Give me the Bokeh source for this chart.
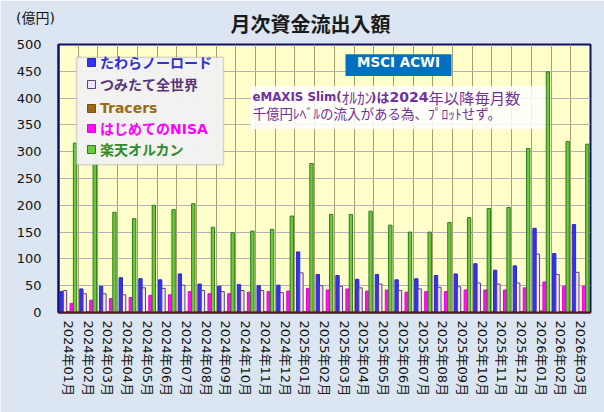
from bokeh.plotting import figure
from bokeh.models import (Range1d, FixedTicker, Legend, LegendItem, Label, BoxAnnotation,
                          ColumnDataSource, Div, GridBox)
from bokeh.transform import dodge
from bokeh.embed import file_html
from bokeh.resources import INLINE

months = ["2024年01月", "2024年02月", "2024年03月", "2024年04月", "2024年05月", "2024年06月",
          "2024年07月", "2024年08月", "2024年09月", "2024年10月", "2024年11月", "2024年12月",
          "2025年01月", "2025年02月", "2025年03月", "2025年04月", "2025年05月", "2025年06月",
          "2025年07月", "2025年08月", "2025年09月", "2025年10月", "2025年11月", "2025年12月",
          "2026年01月", "2026年02月", "2026年03月"]
tawara = [39, 44, 49, 65, 63, 61, 72, 53, 49, 52, 50, 51,
          113, 71, 69, 62, 71, 61, 63, 69, 72, 91, 79, 87,
          157, 110, 164]
tsumitate = [41, 35, 35, 33, 46, 45, 51, 41, 39, 41, 41, 37,
             74, 50, 49, 46, 53, 41, 44, 47, 48, 55, 53, 55,
             109, 71, 75]
tracers = [2, 1, 1, 1, 1, 1, 1, 1, 1, 1, 1, 1,
           1, 1, 1, 1, 1, 1, 1, 1, 1, 1, 1, 2,
           3, 1, 1]
hajimete = [17, 23, 26, 28, 32, 33, 39, 35, 35, 38, 39, 40,
            45, 42, 44, 40, 42, 38, 39, 39, 42, 42, 42, 46,
            57, 49, 49]
rakuten = [316, 300, 187, 175, 200, 192, 203, 159, 149, 152, 155, 180,
           278, 183, 183, 189, 163, 150, 150, 168, 177, 194, 196, 306,
           449, 319, 314]
series_names = ["たわらノーロード", "つみたて全世界", "Tracers", "はじめてのNISA", "楽天オルカン"]
y_ticks = [0, 50, 100, 150, 200, 250, 300, 350, 400, 450, 500]

n = len(months)
xs = list(range(1, n + 1))
src = ColumnDataSource(dict(x=xs, tawara=tawara, tsumitate=tsumitate, tracers=tracers,
                            hajimete=hajimete, rakuten=rakuten))

W, H = 604, 412
FL, FR, FT, FB = 58, 14, 40, 100  # borders around frame (page px)
fw, fh = W - FL - FR, H - FT - FB

p = figure(width=W, height=H, output_backend="svg", toolbar_location=None,
           x_range=Range1d(0.5, n + 0.5), y_range=Range1d(0, 500),
           min_border_left=FL, min_border_right=FR, min_border_top=FT, min_border_bottom=FB,
           background_fill_color="#FFFFCC", border_fill_color="#DCE6F2")

CJK = "'DejaVu Sans', 'Noto Sans CJK JP'"
LAT = "'DejaVu Sans'"
JP = "'Noto Sans CJK JP'"

p.title.text = "月次資金流出入額"
p.title.align = "left"
p.title.offset = 172
p.title.text_font = JP
p.title.text_font_size = "20px"
p.title.text_font_style = "bold"
p.title.text_color = "#1a1a1a"
p.title.standoff = 13

p.outline_line_color = "#10106A"
p.outline_line_width = 2

# axes
p.xaxis.ticker = FixedTicker(ticks=xs)
p.xaxis.major_label_overrides = {x: m for x, m in zip(xs, months)}
p.xaxis.major_label_orientation = "vertical"
p.xaxis.major_label_text_font = CJK
p.xaxis.major_label_text_font_size = "13px"
p.xaxis.major_label_text_color = "#111111"
p.xaxis.major_tick_line_color = None
p.xaxis.minor_tick_line_color = None
p.xaxis.major_tick_out = 0
p.xaxis.major_label_standoff = 8
p.xaxis.axis_line_color = "#4A1E10"
p.xaxis.axis_line_width = 2

p.yaxis.ticker = FixedTicker(ticks=y_ticks)
p.yaxis.major_label_text_font = LAT
p.yaxis.major_label_text_font_size = "13px"
p.yaxis.major_label_text_color = "#111111"
p.yaxis.major_tick_line_color = None
p.yaxis.minor_tick_line_color = None
p.yaxis.major_tick_out = 0
p.yaxis.major_label_standoff = 17
p.yaxis.axis_line_color = "#10106A"
p.yaxis.axis_line_width = 2

p.xgrid.ticker = FixedTicker(ticks=[i + 0.5 for i in range(n + 1)])
p.xgrid.grid_line_color = "#B09A72"
p.ygrid.grid_line_color = "#B8AEB8"

# bars
bw = 0.17
styles = [
    ("tawara", -2 * bw, "#3333F0", "#2828C8"),
    ("tsumitate", -bw, "#F4E4FA", "#5E3E7E"),
    ("tracers", 0.0, "#9C6A14", "#7A5010"),
    ("hajimete", bw, "#FF10F0", "#E000E0"),
    ("rakuten", 2 * bw, "#6CCB3A", "#2F7A1F"),
]
renderers = []
for col, off, fc, lc in styles:
    r = p.vbar(x=dodge("x", off), top=col, width=bw, bottom=0, source=src,
               fill_color=fc, line_color=lc, line_width=1)
    renderers.append(r)

# helpers: page px -> data / frame-screen coords
def dx(px):
    return 0.5 + (px - FL) * n / fw
def dy(py):
    return (FT + fh - py) * 500 / fh
def sx(px):
    return px - FL
def sy(py):
    return FT + fh - py

# legend box
p.add_layout(BoxAnnotation(left=dx(76), right=dx(223), top=dy(53), bottom=dy(162),
                           fill_color="#F2F2F2", fill_alpha=0.97,
                           line_color="#8C8C8C", line_width=1.5, level="annotation"))
text_colors = ["#3030D0", "#55367A", "#9C6A14", "#FF00FF", "#2E8B2E"]
row_y = [63, 85, 107, 128.5, 150]
for r, name, tc, ry in zip(renderers, series_names, text_colors, row_y):
    lg = Legend(items=[LegendItem(label=name, renderers=[r])],
                location=(sx(86), sy(ry) - 9), padding=0, margin=0, spacing=0,
                glyph_width=10, glyph_height=10, label_height=10, label_standoff=4,
                label_text_font=CJK, label_text_font_size="14px", label_text_font_style="bold",
                label_text_color=tc, border_line_alpha=0, background_fill_alpha=0)
    p.add_layout(lg)

# MSCI ACWI box
p.add_layout(BoxAnnotation(left=dx(345), right=dx(451), top=dy(50), bottom=dy(72),
                           fill_color="#0070C0", fill_alpha=1, line_color=None, level="annotation"))
p.add_layout(Label(x=sx(398), y=sy(61), x_units="screen", y_units="screen", text="MSCI ACWI",
                   text_align="center", text_baseline="middle", text_color="white",
                   text_font=LAT, text_font_style="bold", text_font_size="13.5px"))

# note box
p.add_layout(BoxAnnotation(left=dx(250), right=dx(545), top=dy(82), bottom=dy(126),
                           fill_color="white", fill_alpha=0.85, line_color=None, level="annotation"))
PURPLE = "#7030A0"
note1 = [("eMAXIS Slim(", 252, "bold", "11.8px", LAT),
         ("ｵﾙｶﾝ", 341, "normal", "15.5px", JP),
         (")は", 370, "bold", "13px", CJK),
         ("2024", 389, "bold", "14px", LAT),
         ("年以降毎月数", 428, "normal", "15.3px", JP)]
for t, px, st, fs, ff in note1:
    p.add_layout(Label(x=sx(px), y=sy(96.7), x_units="screen", y_units="screen", text=t,
                       text_align="left", text_baseline="middle", text_color=PURPLE,
                       text_font=ff, text_font_style=st, text_font_size=fs))
p.add_layout(Label(x=sx(252), y=sy(112), x_units="screen", y_units="screen",
                   text="千億円ﾚﾍﾞﾙの流入がある為、ﾌﾟﾛｯﾄせず。",
                   text_align="left", text_baseline="middle", text_color=PURPLE,
                   text_font=JP, text_font_style="normal", text_font_size="13.5px"))

# unit label (outside the plot frame), overlaid on the figure's top-left corner
unit = Div(text="(億円)", width=60, height=20, margin=(9, 0, 0, 16),
           styles={"font-size": "14px", "font-family": "'DejaVu Sans', 'Noto Sans CJK JP'",
                   "color": "#111111", "line-height": "18px", "white-space": "nowrap"})
layout = GridBox(children=[(p, 0, 0), (unit, 0, 0)])

open("out.html", "w").write(file_html(layout, INLINE))
